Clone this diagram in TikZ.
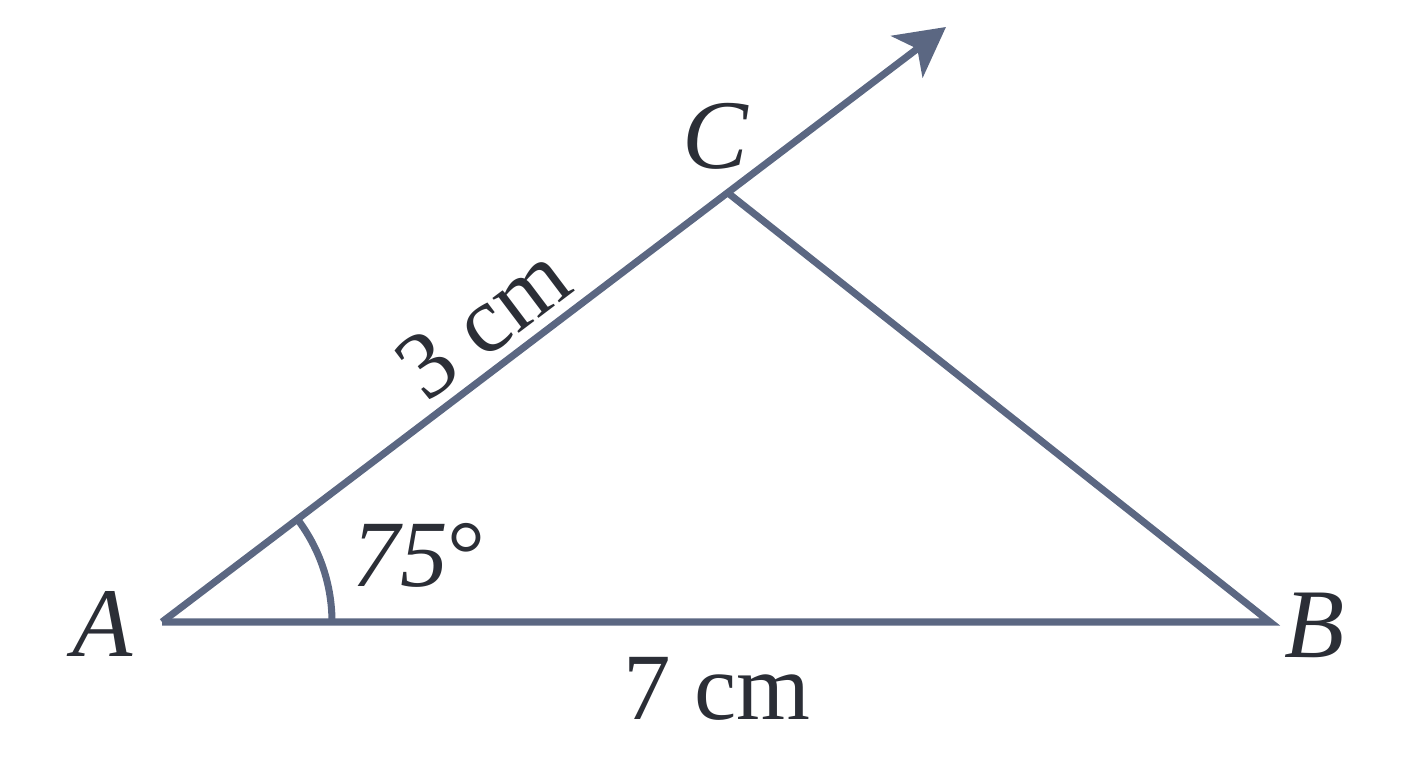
\documentclass[tikz,border=0pt]{standalone}
\usepackage{fontspec}
\setmainfont{Liberation Serif}
\usetikzlibrary{arrows.meta}
\definecolor{edge}{HTML}{5B6782}
\definecolor{ink}{HTML}{2B2E36}
\begin{document}
\begin{tikzpicture}[x=0.01cm,y=-0.01cm,
  side/.style={draw=edge,line width=2pt,line join=miter},
  lbl/.style={text=ink,font=\fontsize{28}{32}\selectfont\itshape,inner sep=0pt},
  meas/.style={text=ink,font=\fontsize{27}{30}\selectfont,inner sep=0pt}]
\useasboundingbox (0,0) rectangle (1408,768);
\coordinate (A) at (162,622);
\coordinate (B) at (1270,622);
\coordinate (C) at (728,193);
\coordinate (T) at (946,27);
% sides
\draw[side] (A) -- (B) -- (C);
\draw[side,-{Stealth[length=0.49cm,width=0.52cm,inset=0.13cm]}] (A) -- (T);
% angle arc
\draw[edge,line width=2pt] ([shift={(0:170)}]A) arc[start angle=0,end angle=-37.2,radius=170];
% labels
\node[lbl] (la) at (103,624) {A};
\node[lbl] (lb) at (1315,625) {B};
\node[lbl] (lc) at (715,136) {C};
\node[meas,anchor=base] (l7) at (717,720) {7 cm};
\node[meas,anchor=base west] (l75) at (352,587) {\itshape 75\upshape°};
\node[meas,rotate=37] (l3) at (483,322) {3 cm};
\end{tikzpicture}
\end{document}
